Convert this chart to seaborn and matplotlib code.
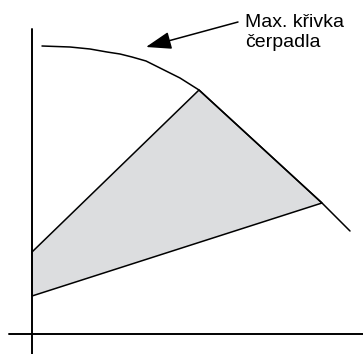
import matplotlib
matplotlib.use("Agg")
import matplotlib.pyplot as plt
import seaborn as sns
import pandas as pd

# Max pump curve (schematic)
curve_x = [10, 38, 58, 75, 88, 100, 114, 128, 148, 167, 290, 318]
curve_y = [288, 287, 285, 282, 280, 277, 273, 266, 256, 244, 131, 103]

# Operating region polygon
region_x = [0, 167, 290, 0]
region_y = [82, 244, 131, 38]

label_lines = ["Max. křivka", "čerpadla"]

sns.set_theme(style="white")
plt.rcParams['font.family'] = ['Liberation Sans', 'DejaVu Sans']

fig = plt.figure(figsize=(3.63, 3.54), dpi=100)
ax = fig.add_axes([0, 0, 1, 1])
ax.set_xlim(-32, 331)
ax.set_ylim(-20, 334)
ax.axis('off')

# filled region
ax.fill(region_x, region_y, color="#dcdddf", zorder=1, lw=0)
poly = pd.DataFrame({"x": region_x + [region_x[0]], "y": region_y + [region_y[0]]})
sns.lineplot(data=poly, x="x", y="y", sort=False, estimator=None, color="black",
             lw=1.1, ax=ax, zorder=2)

curve = pd.DataFrame({"x": curve_x, "y": curve_y})
sns.lineplot(data=curve, x="x", y="y", sort=False, estimator=None, color="black",
             lw=1.1, ax=ax, zorder=3)

# axes lines
ax.plot([0, 0], [-20, 305], color="black", lw=1.4, zorder=4)
ax.plot([-23, 331], [0, 0], color="black", lw=1.4, zorder=4)

# annotation arrow
ax.annotate("", xy=(114, 287), xytext=(206, 312),
            arrowprops=dict(arrowstyle="-|>,head_length=1.3,head_width=0.45",
                            color="black", lw=1.1, shrinkA=0, shrinkB=0))
ax.text(213, 307, label_lines[0], fontsize=14, va="baseline", ha="left", color="black")
ax.text(213, 287, label_lines[1], fontsize=14, va="baseline", ha="left", color="black")

ax.set_xlabel("")
ax.set_ylabel("")
fig.savefig("out.png", dpi=100)
